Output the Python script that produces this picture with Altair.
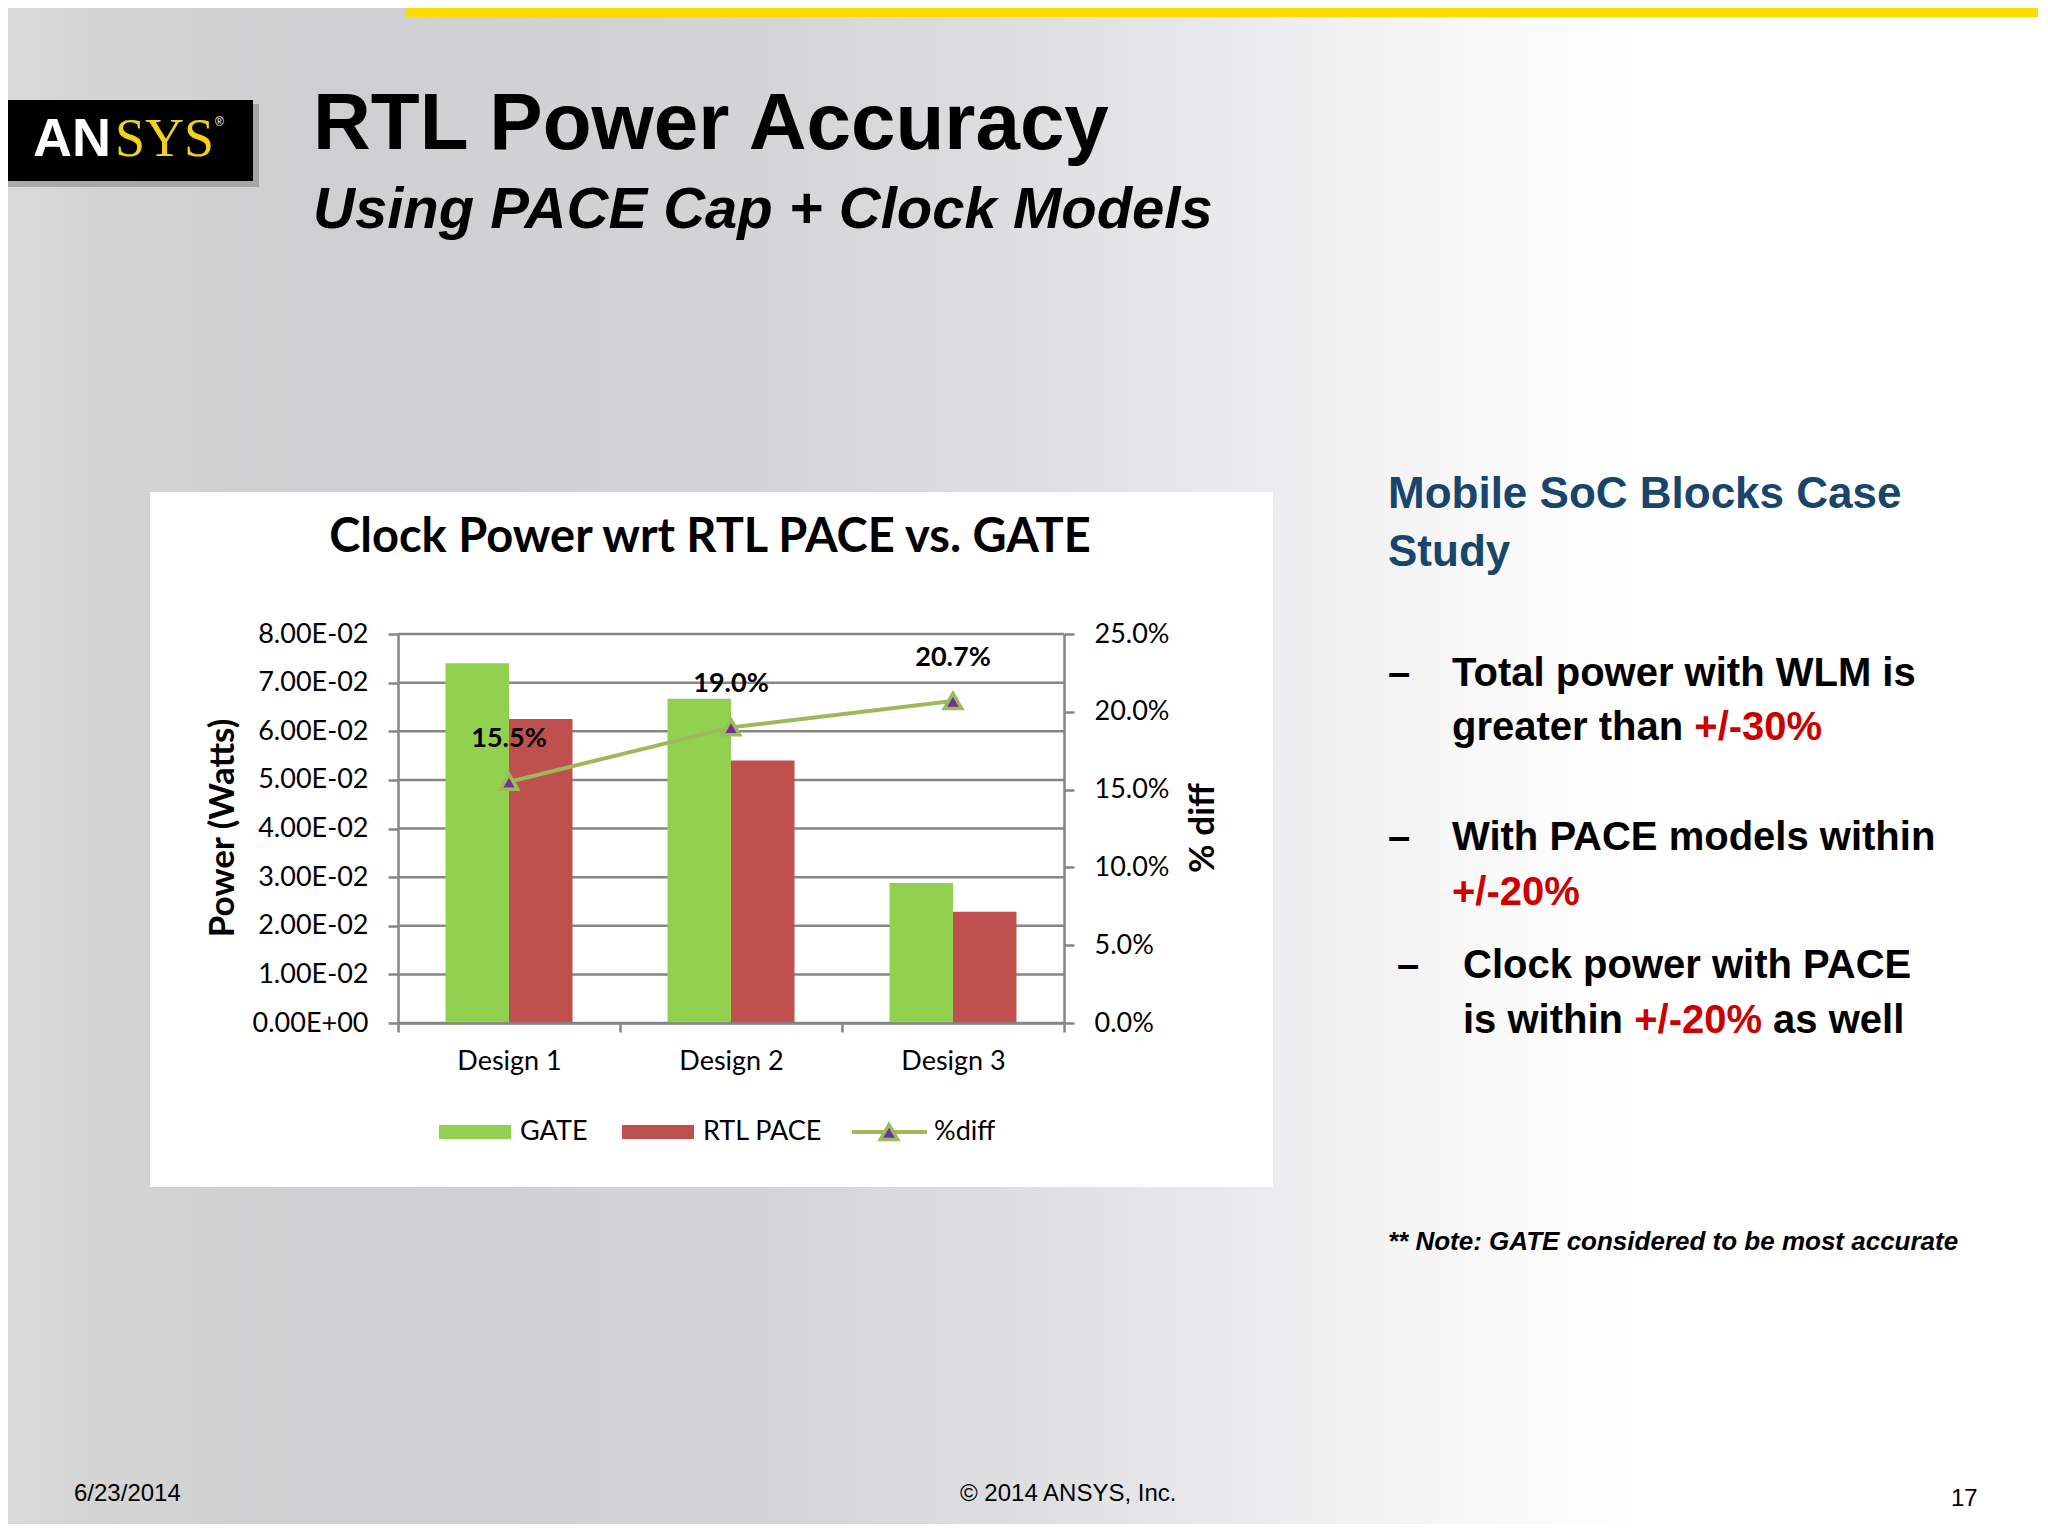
import altair as alt
import pandas as pd

# ---------------- data ----------------
designs = ["Design 1", "Design 2", "Design 3"]
series_names = ["GATE", "RTL PACE"]
gate_power = [0.0740, 0.0667, 0.0288]
rtl_pace_power = [0.0625, 0.0540, 0.0229]
pct_diff = [0.155, 0.190, 0.207]
power_ticks = [0.00, 0.01, 0.02, 0.03, 0.04, 0.05, 0.06, 0.07, 0.08]
pct_ticks = [0.0, 0.05, 0.10, 0.15, 0.20, 0.25]
series_colors = ["#92D050", "#C0504D"]
line_color = "#9BBB59"
marker_fill = "#7030A0"

bars_df = pd.DataFrame({
    "design": designs * 2,
    "series": [series_names[0]] * 3 + [series_names[1]] * 3,
    "power": gate_power + rtl_pace_power,
})
pct_df = pd.DataFrame({"design": designs, "pct": pct_diff})
grid_df = pd.DataFrame({"power": power_ticks})

# ---------------- layout ----------------
OX, OY = 398, 634          # page position of plot origin
W, H = 666, 389            # plot area
TOTAL_W, TOTAL_H = 2030, 1516
PAD_L, PAD_T = OX - 8, OY - 8

SANS = "Liberation Sans, Arial, sans-serif"
LATO = "Lato, Noto Sans, sans-serif"
GRID = "#868686"

# Arial/Liberation Sans Bold advance widths (1/1000 em) to chain coloured runs
BOLD_W = {" ": 278, "g": 611, "r": 389, "e": 556, "a": 556, "t": 333, "h": 611,
          "n": 611, "i": 278, "s": 556, "w": 778, "+": 584, "/": 278, "-": 333,
          "0": 556, "2": 556, "3": 556, "%": 889}


def run_width(s, size):
    return sum(BOLD_W[c] for c in s) * size / 1000.0


def one():
    return pd.DataFrame({"a": [0]})


def label(s, px, py, size, font=SANS, weight="bold", style="normal",
          color="#000000", align="left", baseline="alphabetic", angle=0):
    return alt.Chart(pd.DataFrame({"t": [s]})).mark_text(
        align=align, baseline=baseline, font=font, fontSize=size,
        fontWeight=weight, fontStyle=style, color=color, angle=angle,
    ).encode(x=alt.value(px - OX), y=alt.value(py - OY), text="t:N")


def box(x1, y1, x2, y2, color, opacity=1.0):
    return alt.Chart(one()).mark_rect(color=color, opacity=opacity).encode(
        x=alt.value(x1 - OX), x2=alt.value(x2 - OX),
        y=alt.value(y1 - OY), y2=alt.value(y2 - OY))


bg_grad = alt.LinearGradient(
    gradient="linear", x1=0, x2=1, y1=0, y2=0,
    stops=[
        alt.GradientStop(color="#dadada", offset=0.0),
        alt.GradientStop(color="#d4d4d4", offset=0.05),
        alt.GradientStop(color="#cecfd0", offset=0.15),
        alt.GradientStop(color="#d3d3d5", offset=0.35),
        alt.GradientStop(color="#dedee0", offset=0.5),
        alt.GradientStop(color="#ececee", offset=0.62),
        alt.GradientStop(color="#f8f8f8", offset=0.72),
        alt.GradientStop(color="#ffffff", offset=0.8),
        alt.GradientStop(color="#ffffff", offset=1.0),
    ])
background = alt.Chart(one()).mark_rect(color=bg_grad).encode(
    x=alt.value(0 - OX), x2=alt.value(2048 - OX),
    y=alt.value(0 - OY), y2=alt.value(1536 - OY))

BS = 40  # bullet font size
red = "#CC0000"
x_l2_red = 1452 + run_width("greater than ", BS)
x_l4_red = 1463 + run_width("is within ", BS)
x_l4_end = x_l4_red + run_width("+/-20% ", BS)

MARK_SIZE = 300

decor = [
    background,
    box(406, 8, 2048, 17, "#FFDB00"),
    box(4, 104, 259, 187, "#555555", 0.35),
    box(0, 100, 253, 181, "#000000"),
    label("AN", 33, 156, 54, color="#ffffff"),
    label("SYS", 115, 156, 54, font="Liberation Serif, serif", weight="normal", color="#F2D31B"),
    label("®", 215, 126, 12, weight="normal", color="#ffffff"),
    label("RTL Power Accuracy", 313, 149, 80),
    label("Using PACE Cap + Clock Models", 313, 228, 58, style="italic"),
    label("Mobile SoC Blocks Case", 1388, 508, 44, color="#17456b"),
    label("Study", 1388, 566, 44, color="#17456b"),
    label("–", 1388, 686, BS),
    label("Total power with WLM is", 1452, 686, BS),
    label("greater than", 1452, 740, BS),
    label("+/-30%", x_l2_red, 740, BS, color=red),
    label("–", 1388, 850, BS),
    label("With PACE models within", 1452, 850, BS),
    label("+/-20%", 1452, 905, BS, color=red),
    label("–", 1397, 978, BS),
    label("Clock power with PACE", 1463, 978, BS),
    label("is within", 1463, 1033, BS),
    label("+/-20%", x_l4_red, 1033, BS, color=red),
    label("as well", x_l4_end, 1033, BS),
    label("** Note: GATE considered to be most accurate", 1388, 1250, 26, style="italic"),
    label("6/23/2014", 74, 1501, 24, weight="normal"),
    label("© 2014 ANSYS, Inc.", 960, 1501, 24, weight="normal"),
    label("17", 1951, 1506, 24, weight="normal"),
    # chart box
    box(150, 492, 1273, 1187, "#ffffff"),
    label("Clock Power wrt RTL PACE vs. GATE", 710, 552, 47, font=LATO, align="center"),
    label("Power (Watts)", 223, 828, 35, font=LATO, align="center", baseline="middle", angle=270),
    label("% diff", 1203, 828, 35, font=LATO, align="center", baseline="middle", angle=270),
    # legend
    box(439, 1125, 511, 1139, series_colors[0]),
    label(series_names[0], 520, 1132, 27, font=LATO, weight="normal", baseline="middle"),
    box(622, 1125, 694, 1139, series_colors[1]),
    label(series_names[1], 703, 1132, 27, font=LATO, weight="normal", baseline="middle"),
    alt.Chart(one()).mark_rule(color=line_color, strokeWidth=4).encode(
        x=alt.value(852 - OX), x2=alt.value(927 - OX), y=alt.value(1132 - OY)),
    alt.Chart(one()).mark_point(shape="triangle-up", filled=True, fill=marker_fill,
                                stroke=line_color, strokeWidth=3.5, size=MARK_SIZE, opacity=1).encode(
        x=alt.value(889 - OX), y=alt.value(1132 - OY)),
    label("%diff", 934, 1132, 27, font=LATO, weight="normal", baseline="middle"),
]

# ---------------- chart ----------------
x_enc = alt.X("design:N", sort=designs, title=None,
              scale=alt.Scale(domain=designs, paddingInner=0, paddingOuter=0),
              axis=alt.Axis(tickBand="extent", tickSize=9, labelPadding=16,
                            labelAngle=0, zindex=1, grid=False))

left_axis = alt.Axis(values=power_ticks, tickSize=10, labelPadding=20, grid=False, zindex=1,
                     labelExpr="datum.value == 0 ? '0.00E+00' : format(datum.value * 100, '.2f') + 'E-02'")
y_left = alt.Y("power:Q", title=None, scale=alt.Scale(domain=[0, 0.08], nice=False), axis=left_axis)

grid_rules = alt.Chart(grid_df).mark_rule(color=GRID, strokeWidth=2.5).encode(y=y_left)

bars = alt.Chart(bars_df).mark_bar().encode(
    x=x_enc,
    xOffset=alt.XOffset("series:N", sort=series_names,
                        scale=alt.Scale(domain=series_names, paddingInner=0, paddingOuter=0.748)),
    y=y_left,
    color=alt.Color("series:N", scale=alt.Scale(domain=series_names, range=series_colors), legend=None),
)

left_layer = alt.layer(grid_rules, bars)

y_right = alt.Y("pct:Q", title=None, scale=alt.Scale(domain=[0, 0.25], nice=False),
                axis=alt.Axis(orient="right", values=pct_ticks, format=".1%", tickSize=10,
                              labelPadding=20, grid=False, zindex=1))

line = alt.Chart().mark_line(color=line_color, strokeWidth=4)
pts = alt.Chart().mark_point(shape="triangle-up", filled=True, fill=marker_fill,
                             stroke=line_color, strokeWidth=3.5, size=MARK_SIZE, opacity=1)
lbls = alt.Chart().mark_text(dy=-43, font=LATO, fontSize=27, fontWeight="bold",
                             color="#000000").encode(text=alt.Text("pct:Q", format=".1%"))
right_layer = alt.layer(line, pts, lbls, data=pct_df).encode(x=x_enc, y=y_right)

chart = alt.layer(*decor, left_layer, right_layer).resolve_scale(
    y="independent"
).properties(
    width=W, height=H,
    autosize=alt.AutoSizeParams(type="none"),
    padding={"left": PAD_L, "top": PAD_T,
             "right": TOTAL_W - PAD_L - W, "bottom": TOTAL_H - PAD_T - H},
    background="#d8d8d8",
).configure(font=LATO).configure_view(stroke=None).configure_axis(
    domainColor=GRID, domainWidth=2.5, tickColor=GRID, tickWidth=2.5,
    labelFont=LATO, labelFontSize=27, labelColor="#000000",
)

chart.save("out.html", embed_options={"renderer": "svg", "actions": False})
